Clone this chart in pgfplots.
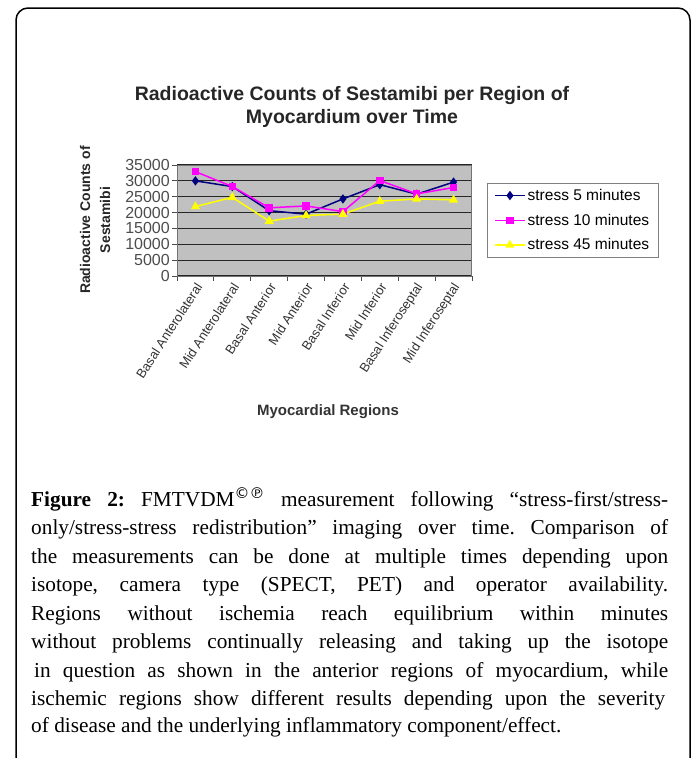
\documentclass[border=0pt]{standalone}
\usepackage{fontspec}
\setmainfont{Liberation Serif}
\newfontfamily\arialf{Liberation Sans}
\newfontfamily\dejavu{DejaVu Sans}
\usepackage{pgfplots}
\pgfplotsset{compat=1.18}

\definecolor{navyc}{HTML}{000080}
\definecolor{magc}{HTML}{FF00FF}
\definecolor{yelc}{HTML}{FFFF00}
\definecolor{plotgray}{HTML}{C0C0C0}

\newcommand\cf{\fontsize{21.3}{28}\selectfont\frenchspacing}

\begin{document}
\begin{tikzpicture}[x=1pt,y=1pt]
\path[use as bounding box] (0,0) rectangle (695,-758);
\draw[line width=1.5pt] (16,-758) -- (16,-20) arc[start angle=180,end angle=90,radius=12] -- (678,-8) arc[start angle=90,end angle=0,radius=12] -- (690,-758);

\begin{axis}[
  at={(177pt,-276pt)}, anchor=south west,
  scale only axis, width=295pt, height=111pt,
  xmin=-0.5, xmax=7.5, ymin=0, ymax=35000,
  ytick={0,5000,...,35000},
  scaled y ticks=false,
  /pgf/number format/1000 sep={},
  /pgf/number format/fixed,
  /pgf/number format/assume math mode=true,
  xtick={0,...,7},
  xticklabels={Basal Anterolateral, Mid Anterolateral, Basal Anterior, Mid Anterior, Basal Inferior, Mid Inferior, Basal Inferoseptal, Mid Inferoseptal},
  minor xtick={-0.5,0.5,...,7.5},
  major x tick style={draw=none},
  minor x tick style={draw=black!70, line width=0.8pt},
  ytick style={draw=black!70, line width=0.8pt},
  major tick length=5pt, minor tick length=5pt,
  tick align=outside, tick pos=left,
  ymajorgrids,
  major grid style={black!85, line width=1.2pt},
  axis line style={black!55, line width=1pt},
  axis background/.style={fill=plotgray},
  yticklabel style={font=\arialf\fontsize{16}{16}\selectfont, text=black!70, inner sep=2pt},
  xticklabel style={font=\arialf\fontsize{13}{13}\selectfont, text=black!80, rotate=57, anchor=east, inner sep=1pt, yshift=-5pt},
  legend style={at={(1.0508,0.838)}, anchor=north west, draw=black!50, fill=white,
    font=\arialf\fontsize{15.5}{18}\selectfont, inner xsep=7pt, inner ysep=4pt, row sep=8pt},
  legend cell align=left,
  legend image code/.code={\draw[mark repeat=2,mark phase=2,#1] plot coordinates {(0pt,0pt) (15pt,0pt) (30pt,0pt)};},
]
\addplot[color=navyc, line width=1.5pt, mark=diamond*, mark size=3.5pt] coordinates {
(0,30000) (1,28200) (2,20600) (3,19500) (4,24300) (5,28800) (6,25800) (7,29600)};
\addlegendentry{stress 5 minutes}
\addplot[color=magc, line width=1.5pt, mark=square*, mark size=3pt] coordinates {
(0,32900) (1,28200) (2,21500) (3,22100) (4,20300) (5,30100) (6,25900) (7,27900)};
\addlegendentry{stress 10 minutes}
\addplot[color=yelc, line width=1.5pt, mark=triangle*, mark size=3.8pt] coordinates {
(0,21900) (1,24800) (2,17300) (3,19100) (4,19500) (5,23600) (6,24300) (7,24000)};
\addlegendentry{stress 45 minutes}
\end{axis}

\node[font=\arialf\bfseries\fontsize{19.5}{23}\selectfont, align=center, text=black!85] at (352,-106.5)
  {Radioactive Counts of Sestamibi per Region of\\Myocardium over Time};
\node[rotate=90, font=\arialf\bfseries\fontsize{14}{20}\selectfont, align=center, text=black!85] at (95,-220)
  {Radioactive Counts of\\Sestamibi};
\node[font=\arialf\bfseries\fontsize{15}{18}\selectfont, text=black!80] at (328,-412) {Myocardial Regions};

\node[anchor=base west, inner sep=0pt] at (31,-506) {\cf\makebox[637pt][s]{\textbf{Figure 2:} FMTVDM\textsuperscript{{\dejavu ©℗}} measurement following “stress-first/stress-}};
\node[anchor=base west, inner sep=0pt] at (31,-534.5) {\cf\makebox[637pt][s]{only/stress-stress redistribution” imaging over time. Comparison of}};
\node[anchor=base west, inner sep=0pt] at (31,-563) {\cf\makebox[637pt][s]{the measurements can be done at multiple times depending upon}};
\node[anchor=base west, inner sep=0pt] at (31,-591.5) {\cf\makebox[637pt][s]{isotope, camera type (SPECT, PET) and operator availability.}};
\node[anchor=base west, inner sep=0pt] at (31,-620) {\cf\makebox[637pt][s]{Regions without ischemia reach equilibrium within minutes}};
\node[anchor=base west, inner sep=0pt] at (31,-648.5) {\cf\makebox[637pt][s]{without problems continually releasing and taking up the isotope}};
\node[anchor=base west, inner sep=0pt] at (34,-677) {\cf\makebox[634pt][s]{in question as shown in the anterior regions of  myocardium, while}};
\node[anchor=base west, inner sep=0pt] at (31,-705.5) {\cf\makebox[634pt][s]{ischemic regions show different results depending upon the severity}};
\node[anchor=base west, inner sep=0pt] at (31,-732) {\cf of disease and the underlying inflammatory component/effect.};
\end{tikzpicture}
\end{document}
